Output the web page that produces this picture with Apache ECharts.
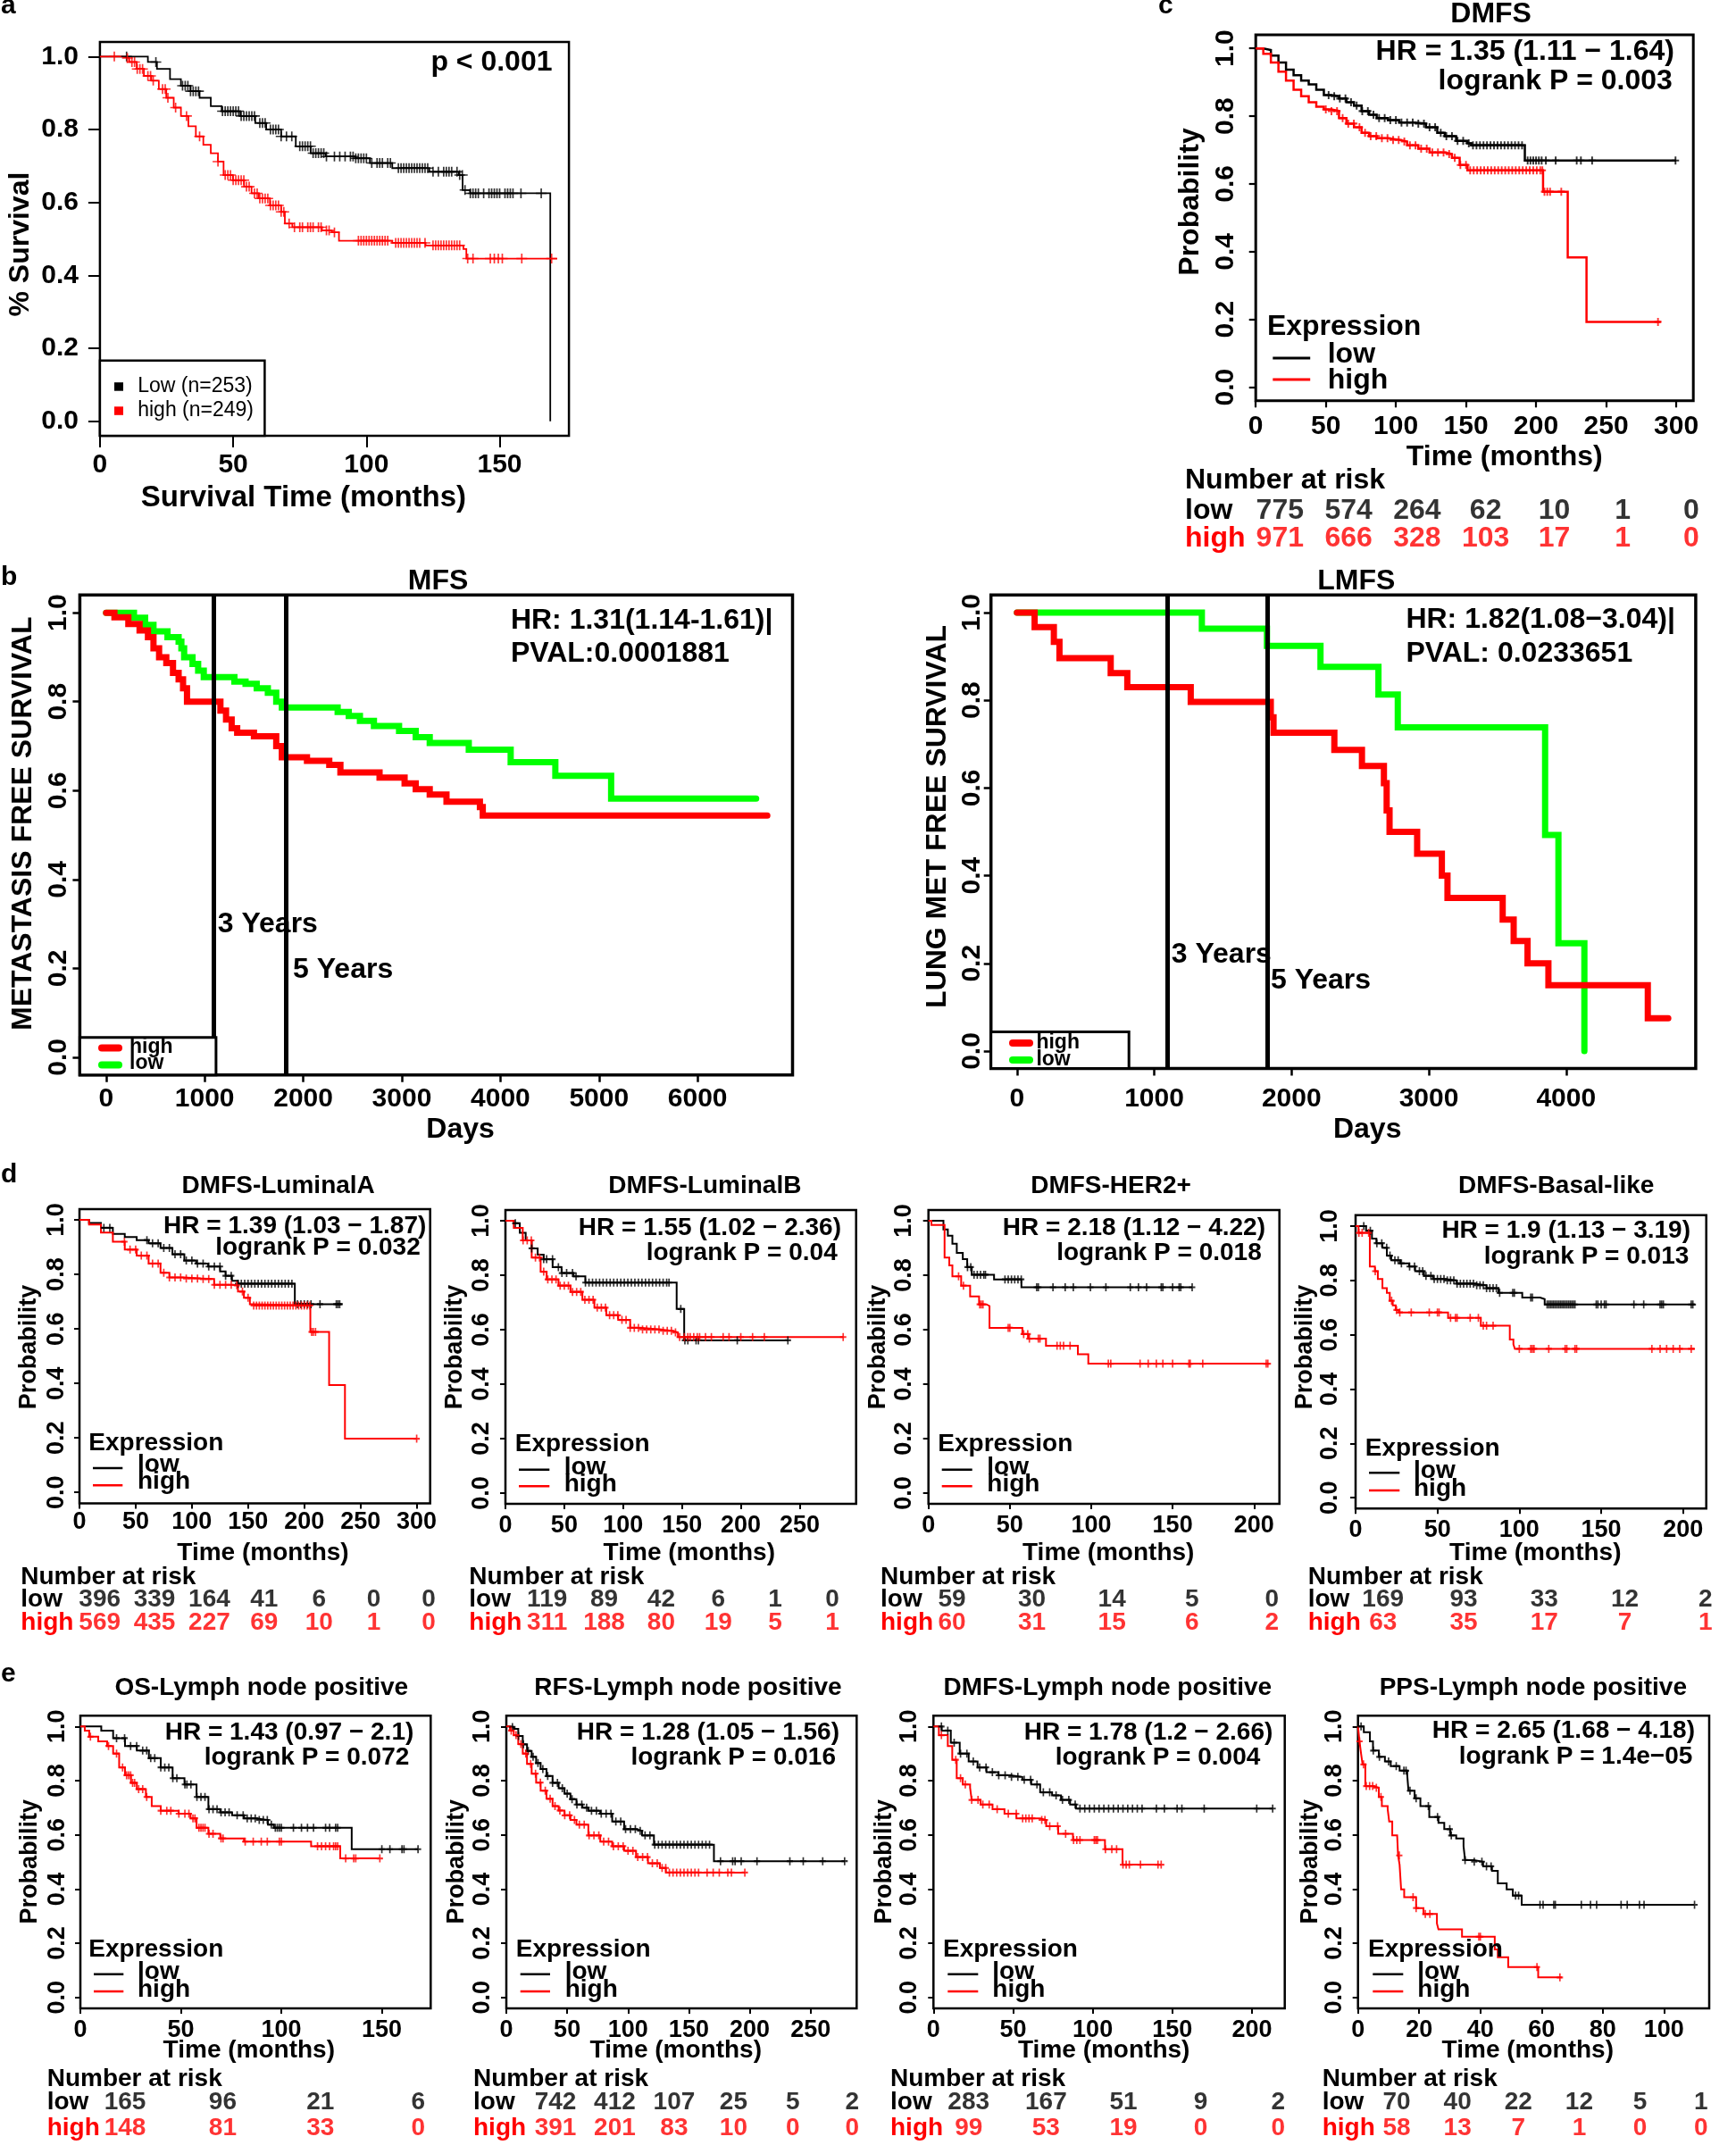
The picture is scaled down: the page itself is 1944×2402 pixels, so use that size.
<!DOCTYPE html>
<html><head><meta charset="utf-8">
<script src="https://cdn.jsdelivr.net/npm/echarts/dist/echarts.min.js"></script>
<style>html,body{margin:0;padding:0;background:#fff}#c{width:1944px;height:2402px}</style>
</head><body><div id="c"></div>
<script>
const FONT = '"Liberation Sans", Arial, sans-serif';
const RED = '#ff0000', BLACK = '#000000', GREEN = '#00ff00';
const PROB_TICKS = [0, 0.2, 0.4, 0.6, 0.8, 1];

// ---------- tick labels ----------
const ticksA = [0, 50, 100, 150];
const ticks300 = [0, 50, 100, 150, 200, 250, 300];
const ticks250 = [0, 50, 100, 150, 200, 250];
const ticks200 = [0, 50, 100, 150, 200];
const ticks150 = [0, 50, 100, 150];
const ticksPPS = [0, 20, 40, 60, 80, 100];
const ticksMFS = [0, 1000, 2000, 3000, 4000, 5000, 6000];
const ticksLMFS = [0, 1000, 2000, 3000, 4000];
const yearMarks = [1095, 1825];

// ---------- panel a ----------
const aLow = [[0,1],[14,1],[18,0.985],[21.4,0.966],[26.3,0.938],[30.4,0.92],[34,0.905],[37.4,0.887],[41.6,0.864],[45.7,0.85],[52.7,0.837],[58.3,0.818],[62.4,0.8],[68,0.781],[73.5,0.754],[79.1,0.735],[84.7,0.726],[95.8,0.721],[101.3,0.708],[109.7,0.694],[123.6,0.684],[134.7,0.675],[136.1,0.634],[138.9,0.625],[169,0.625],[169,0]];
const aHigh = [[0,1],[8.2,0.996],[11,0.985],[13.8,0.966],[16.5,0.947],[19.3,0.934],[22.1,0.911],[24.9,0.887],[27.7,0.86],[30.4,0.837],[33.2,0.809],[36,0.781],[38.8,0.758],[41.6,0.735],[44.3,0.712],[46.4,0.675],[49.9,0.661],[54.1,0.643],[56.9,0.625],[59.6,0.611],[63.8,0.592],[68,0.574],[69.4,0.542],[72.2,0.532],[83.3,0.523],[87,0.518],[89.7,0.495],[109.7,0.489],[122.2,0.482],[136.4,0.472],[137.5,0.446],[171.6,0.446]];
const aLowCens = [10,21,31,32,33,34,35,36,37,46,47,48,49,50,51,52,53,54,55,56,57,58,60,61,62,64,65,66,67,68,70,72,75,76,77,78,79,80,81,82,83,84,85,88,90,92,94,95,96,97,98,99,100,102,104,105,106,108,109,112,113,114,115,116,117,118,119,120,121,122,123,125,127,129,130,131,132,134,135,136,137,139,140,141,142,144,146,147,148,149,150,152,153,154,155,158,165.6];
const aHighCens = [5.4,10.3,12,13,14,15,16,18,19,20,23.5,24.5,25.5,28.4,32.5,37.4,44.3,47,48,49,50,51,52,53,54,55,56,58,59,60,61,62,63,64,65,66,67,68,69,71,73,75,76,78,79,80,82,83,85,86,88,97,98,99,100,101,102,103,104,105,106,107,108,111,112,113,114,115,116,117,118,119,120,122,125,126,127,128,129,130,131,132,133,134,135,138,140,146.5,148,149.5,151,158.3,169.5];

// ---------- panel c ----------
const cLow = [[0,1],[5.4,0.995],[10.8,0.979],[16.2,0.958],[21.6,0.937],[27,0.921],[32.4,0.905],[37.8,0.894],[43.2,0.878],[48.6,0.862],[54,0.859],[59.4,0.852],[64.7,0.841],[70.1,0.831],[75.5,0.815],[80.9,0.804],[86.3,0.794],[94.4,0.788],[102.5,0.781],[113.3,0.778],[121.4,0.767],[129.5,0.751],[134.9,0.741],[143,0.727],[151.1,0.72],[153.8,0.714],[192,0.669],[300,0.669]];
const cHigh = [[0,1],[5.4,0.984],[10.8,0.958],[16.2,0.931],[21.6,0.905],[27,0.878],[32.4,0.859],[37.8,0.841],[43.2,0.828],[48.6,0.82],[54,0.815],[59.4,0.794],[64.7,0.778],[70.1,0.767],[75.5,0.751],[80.9,0.741],[86.3,0.735],[94.4,0.73],[102.5,0.725],[108,0.714],[116,0.704],[124,0.693],[134.9,0.688],[140,0.677],[145.5,0.656],[151.1,0.64],[205,0.577],[222.6,0.383],[236,0.193],[289,0.193]];
const cLowCens = [52,56,60,64,68,72,76,80,84,88,92,96,100,104,108,112,116,120,124,128,132,136,140,144,148,152,155,157.5,160,162.5,165,167.5,170,172.5,175,177.5,180,182.5,185,187.5,190,194,196,198,200,202,204,207,214,229,232,240,299.5];
const cHighCens = [50,54,58,62,66,70,74,78,82,86,90,94,98,102,106,110,114,118,122,126,130,134,138,142,146,150,153,155.5,158,160.5,163,165.5,168,170.5,173,175.5,178,180.5,183,185.5,188,190.5,193,195.5,198,200.5,203,204.5,206,208,210,218,287];
const cRiskLow = [775,574,264,62,10,1,0];
const cRiskHigh = [971,666,328,103,17,1,0];

// ---------- panel b ----------
const mfsLow = [[0,1],[283,0.989],[396,0.973],[481,0.958],[623,0.945],[736,0.935],[764,0.92],[792,0.9],[877,0.885],[934,0.87],[991,0.855],[1302,0.845],[1415,0.84],[1528,0.83],[1641,0.82],[1726,0.8],[1783,0.787],[2349,0.777],[2462,0.768],[2575,0.757],[2717,0.745],[2972,0.734],[3141,0.72],[3283,0.707],[3679,0.692],[4104,0.664],[4557,0.633],[5123,0.582],[6594,0.582]];
const mfsHigh = [[0,1],[85,0.99],[226,0.975],[340,0.96],[425,0.945],[481,0.92],[538,0.9],[611,0.887],[679,0.865],[736,0.85],[781,0.83],[821,0.8],[1160,0.78],[1217,0.76],[1274,0.74],[1330,0.73],[1500,0.722],[1726,0.7],[1783,0.675],[2038,0.667],[2264,0.658],[2377,0.641],[2774,0.629],[3028,0.616],[3141,0.603],[3283,0.591],[3453,0.575],[3792,0.563],[3821,0.544],[6707,0.544]];
const lmfsLow = [[0,1],[1347,0.963],[1821,0.924],[2211,0.876],[2633,0.813],[2774,0.738],[3847,0.493],[3944,0.246],[4133,0]];
const lmfsHigh = [[0,1],[129,0.967],[269,0.933],[310,0.896],[683,0.862],[804,0.83],[1266,0.796],[1849,0.761],[1869,0.726],[2312,0.687],[2513,0.65],[2673,0.611],[2693,0.549],[2714,0.5],[2915,0.45],[3095,0.4],[3136,0.349],[3538,0.3],[3618,0.251],[3719,0.2],[3871,0.15],[4595,0.075],[4744,0.075]];

// ---------- panel d ----------
const laLow = [[0,1],[8.5,0.989],[19.1,0.971],[29.7,0.949],[40.3,0.937],[50.9,0.926],[61.5,0.914],[72.1,0.897],[82.7,0.874],[93.3,0.851],[103.9,0.84],[114.5,0.829],[125.1,0.811],[130,0.795],[135.7,0.777],[141,0.766],[191.6,0.691],[233.8,0.691]];
const laHigh = [[0,1],[8.5,0.983],[19.1,0.954],[29.7,0.92],[40.3,0.891],[50.9,0.869],[61.5,0.84],[72.1,0.806],[80,0.789],[93.3,0.785],[109.2,0.783],[119.8,0.762],[135.7,0.76],[141,0.737],[146.3,0.714],[151.6,0.691],[154.3,0.686],[205.4,0.589],[222.1,0.394],[236.2,0.197],[300,0.197]];
const laLowCens = [21.7,27,60,65,70,75,80,85,90,95,100,105,110,115,120,125,130,135,141,144,147,150,153,156,159,162,165,168,171,174,177,180,183,186,189,194,197,200,203,206,214,228.5,230,231.5];
const laHighCens = [40,45,50,55,60,65,70,75,80,85,90,95,100,105,110,115,120,125,130,135,140,145,150,155,157.5,160,162.5,165,167.5,170,172.5,175,177.5,180,182.5,185,187.5,190,192.5,195,197.5,200,202.5,205,206.5,208,210,300];
const laRiskLow = [396,339,164,41,6,0,0];
const laRiskHigh = [569,435,227,69,10,1,0];

const lbLow = [[0,1],[7.1,0.991],[12.2,0.956],[17.2,0.928],[22.3,0.899],[27.4,0.876],[32.5,0.859],[40.1,0.83],[47.7,0.808],[57.8,0.796],[67.9,0.773],[145.5,0.676],[151.9,0.561],[240.4,0.561]];
const lbHigh = [[0,1],[7.1,0.974],[14.7,0.928],[22.3,0.865],[29.9,0.813],[35,0.785],[45.1,0.762],[55.3,0.739],[65.4,0.71],[75.6,0.681],[85.7,0.653],[95.8,0.636],[106,0.607],[116.1,0.601],[131.3,0.596],[141.5,0.59],[146.6,0.573],[287.3,0.573]];
const lbLowCens = [8.4,22.3,32.5,35,40,45,48,52,57,60,68,71,74,77,80,83,86,89,92,95,98,101,104,107,110,113,116,119,122,125,128,131,134,137,139,149,152.5,155,162,164,197,240];
const lbHighCens = [15,18.5,22,25.5,29,32.5,36,39.5,43,46.5,50,53.5,57,60.5,64,67.5,71,74.5,78,81.5,85,88.5,92,95.5,99,102.5,106,109.5,113,116.5,120,123.5,127,130.5,134,137.5,141,144.5,148,152,155,157,160,163,165,170,175,185,190,200,210,220,287];
const lbRiskLow = [119,89,42,6,1,0];
const lbRiskHigh = [311,188,80,19,5,1];

const h2Low = [[0,1],[9.2,0.968],[11.9,0.945],[14.7,0.916],[17.4,0.882],[21.1,0.859],[23.8,0.83],[26.6,0.802],[40.3,0.785],[57.1,0.756],[162.1,0.756]];
const h2High = [[0,1],[1.8,0.985],[9.9,0.865],[12.8,0.836],[14.7,0.796],[20.1,0.762],[25.6,0.722],[31.1,0.693],[35.7,0.687],[37.5,0.607],[57.7,0.584],[61.4,0.567],[72.2,0.541],[91.8,0.51],[98.2,0.475],[208.8,0.475]];
const h2LowCens = [24,26,28,30,32,34,35,47,49,51,53,55,57,66.5,67.5,76.5,84,89,99.5,109,124,129,134,143,144,150,154,155,162];
const h2HighCens = [18.5,21.5,31.5,32.5,33.5,49,50,58.5,61,62,67.5,68.5,79,81,83,87,110.5,112,130,135,140,144,150,160,160.8,168.5,207.5,208.5];
const h2RiskLow = [59,30,14,5,0];
const h2RiskHigh = [60,31,15,6,2];

const blLow = [[0,1],[6.4,0.983],[10,0.954],[12.7,0.937],[16.4,0.92],[19.1,0.891],[21.8,0.874],[27.3,0.863],[32.7,0.851],[36.4,0.834],[41.8,0.817],[47.3,0.805],[54.5,0.8],[61.8,0.788],[72.7,0.782],[80,0.771],[87.3,0.754],[101.8,0.737],[112.7,0.731],[115.5,0.711],[207.3,0.711]];
const blHigh = [[0,1],[1.8,0.975],[8.7,0.851],[11.8,0.834],[13.6,0.805],[16.4,0.771],[19.1,0.754],[20.9,0.725],[22.7,0.708],[24.5,0.691],[26.4,0.682],[56.5,0.662],[76.5,0.633],[94.2,0.582],[96.4,0.565],[97.3,0.548],[207.3,0.548]];
const blLowCens = [5,9,13,16,19,21,24,26,28,33,36,39,41,43,46,48,50,52,54,56,58,60,62,64,66,68,70,72,74,76,78,80,82,84,86,88,96,97,107,108,117,118,119,120,121,122,123,124,125,126,127,128,129,130,131,132,133,134,147,148,150,152,153,170,176,186,187,188,205,206];
const blHighCens = [2,4,8,12,22,25,27,34,45,50,51,58,61,62,70,75,78,80,84,100,107,108,109,118,128,129,134,135,181,186,190,194,198,205];
const blRiskLow = [169,93,33,12,2];
const blRiskHigh = [63,35,17,7,1];

// ---------- panel e ----------
const osLow = [[0,1],[8.9,1],[10.4,0.985],[16.3,0.957],[22.2,0.928],[28.1,0.911],[34.1,0.883],[40,0.849],[45.9,0.809],[51.8,0.786],[57.8,0.74],[63.7,0.695],[69.6,0.683],[75.5,0.672],[81.4,0.661],[87.4,0.655],[93.3,0.638],[96.3,0.626],[135,0.547],[168.1,0.547]];
const osHigh = [[0,1],[2.2,0.985],[4.4,0.962],[8.9,0.945],[13.3,0.928],[16.3,0.9],[19.3,0.849],[22.2,0.82],[25.2,0.792],[28.1,0.769],[32.6,0.74],[35.5,0.706],[40,0.689],[48.9,0.678],[54.8,0.661],[57.8,0.626],[63.7,0.604],[69.6,0.587],[81.4,0.575],[114.8,0.558],[129.3,0.513],[148.8,0.513]];
const osLowCens = [18,22,25,28,31,33,35,37,40,42,44,46,48,52,53,55,58,60,62,64,66,68,70,72,74,78,81,83,85,87,89,91,93,95,97,98,99,100,106,110,113,116,122,124,127,128,150,154,160,161,168];
const osHighCens = [5,14,18,21,23,24,25,26,27,29,31,33,40,43,45,49,52,54,56,57,59,60,61,62,64,66,70,71,82,86,90,93,99,100,118,120,122,124,126,127,128,132,136,137,149];
const osRiskLow = [165,96,21,6];
const osRiskHigh = [148,81,33,0];

const rfsLow = [[0,1],[3,0.998],[6.1,0.991],[9.8,0.965],[13.5,0.934],[17,0.91],[20.8,0.888],[24.5,0.865],[28.2,0.843],[33,0.817],[38,0.792],[43,0.772],[47.8,0.752],[52.7,0.732],[57.6,0.712],[62.5,0.7],[67.4,0.689],[77.2,0.678],[87,0.649],[96.8,0.621],[106.6,0.615],[111.5,0.598],[121.3,0.564],[170.6,0.503],[278.2,0.503]];
const rfsHigh = [[0,1],[3,0.985],[6.1,0.968],[9.8,0.935],[13.5,0.9],[17,0.862],[20.8,0.826],[24.5,0.793],[28.2,0.763],[33,0.733],[38,0.706],[43,0.69],[47.8,0.672],[52.7,0.655],[57.6,0.638],[67.4,0.598],[77.2,0.575],[87,0.558],[96.8,0.541],[106.6,0.518],[116.4,0.495],[126.2,0.478],[131.1,0.461],[196.1,0.461]];
const rfsLowCens = [5,10,14,18,22,26,30,34,38,42,46,50,54,58,62,66,70,74,78,82,86,90,94,98,102,106,110,114,118,122,125,128,131,134,137,140,143,146,149,152,155,158,161,164,167,176,186,188,193,206,233,244,260,278];
const rfsHighCens = [4,8,12,16,20,24,28,32,36,40,44,48,52,56,60,64,68,72,76,80,84,88,92,96,100,104,108,112,116,120,124,128,131,134,137,140,143,146,149,152,155,158,165,170,175,182,185,196];
const rfsRiskLow = [742,412,107,25,5,2];
const rfsRiskHigh = [391,201,83,10,0,0];

const dmLow = [[0,1],[5.2,0.985],[10.9,0.94],[16.5,0.9],[22.1,0.871],[27.7,0.849],[33.3,0.831],[40.8,0.82],[48.3,0.814],[55.8,0.803],[61.4,0.786],[67,0.757],[74.5,0.746],[80.1,0.729],[85.8,0.712],[89.5,0.697],[213.1,0.697]];
const dmHigh = [[0,1],[3.4,0.968],[9,0.928],[11.8,0.877],[14.6,0.809],[18.4,0.786],[23,0.774],[24,0.729],[29.6,0.712],[37.1,0.695],[44.6,0.678],[52.1,0.661],[67,0.655],[70.8,0.632],[78.3,0.604],[87.6,0.581],[107.7,0.547],[118.7,0.49],[142.9,0.49]];
const dmLowCens = [5,9,13,17,21,25,29,33,37,41,45,49,53,57,61,65,69,73,77,81,85,89,92,95,98,101,104,107,110,113,116,119,122,125,128,131,140,145,153,156,170,203,213];
const dmHighCens = [5,14,17,20,24,28,31,35,40,47,52,56,58,60,62,68,70,73,78,83,88,90,92,101,102,103,108,112,115,119,121,123,130,141,143];
const dmRiskLow = [283,167,51,9,2];
const dmRiskHigh = [99,53,19,0,0];

const ppsLow = [[0,1],[1.9,0.979],[3.9,0.945],[4.9,0.911],[6.8,0.888],[8.8,0.871],[10.7,0.854],[13.6,0.837],[16.1,0.82],[16.5,0.763],[18.5,0.735],[20.4,0.706],[23.3,0.666],[26.3,0.644],[28.2,0.621],[30.2,0.598],[32.1,0.587],[34.5,0.558],[35,0.507],[37.9,0.501],[40.9,0.484],[43.8,0.467],[45.7,0.421],[48.6,0.399],[50.6,0.376],[53.5,0.342],[109.9,0.342]];
const ppsHigh = [[0,1],[0.5,0.945],[1,0.9],[1.5,0.86],[2.4,0.78],[4.9,0.774],[6.8,0.74],[7.8,0.706],[9.7,0.695],[10.2,0.649],[11.2,0.598],[12.8,0.592],[13.1,0.524],[13.6,0.49],[14.1,0.399],[15.1,0.37],[19,0.33],[21.4,0.308],[25.8,0.273],[26.3,0.251],[34,0.224],[44.7,0.177],[45.7,0.148],[49.1,0.112],[58.9,0.074],[66.6,0.074]];
const ppsLowCens = [1,5,7,10,12.5,15,15.7,17,19,23,26,30,30.5,35,38,40.5,42,43.5,51.5,52.5,59.5,60.5,64,64.5,73,76,78,86,88,92,93.5,110];
const ppsHighCens = [0.5,1.8,2.7,3.8,4.8,6,7.5,13.5,18,19,22,23.5,39.5,40,58.5,66];
const ppsRiskLow = [70,40,22,12,5,1];
const ppsRiskHigh = [58,13,7,1,0,0];

// ---------- helpers ----------
const PLUS_THIN = 'path://M4.3,0H5.7V4.3H10V5.7H5.7V10H4.3V5.7H0V4.3H4.3Z';
const PLUS = 'path://M3.8,0H6.2V3.8H10V6.2H6.2V10H3.8V6.2H0V3.8H3.8Z';
function stepAt(curve, t) { let s = curve[0][1]; for (const p of curve) { if (p[0] <= t) s = p[1]; else break; } return s; }

const grids = [], xAxes = [], yAxes = [], series = [], graphics = [];
function T(x, y, text, size, o) {
  o = o || {};
  return {type:'text', x:x, y:y, z:100, silent:true, rotation:o.rot || 0,
    style:{text:String(text), font:(o.weight || 'bold') + ' ' + size + 'px ' + FONT, fill:o.color || BLACK,
      textAlign:o.align || 'left', textVerticalAlign:'middle', align:o.align || 'left', verticalAlign:'middle'}};
}
function L(x1, y1, x2, y2, color, w, cap) {
  return {type:'line', z:100, silent:true, shape:{x1:x1, y1:y1, x2:x2, y2:y2}, style:{stroke:color, lineWidth:w, lineCap:cap || 'butt'}};
}
function R(x, y, w, h, o) {
  return {type:'rect', z:100, silent:true, shape:{x:x, y:y, width:w, height:h}, style:o};
}

function addKM(p) {
  const gi = grids.length;
  const [l, t, r, b] = p.box;
  grids.push({left:l, top:t, width:r - l, height:b - t, show:true, borderColor:'#000', borderWidth:p.bw, backgroundColor:'rgba(0,0,0,0)'});
  const lab = {fontSize:p.fs, fontWeight:'bold', fontFamily:FONT, color:'#000'};
  xAxes.push({gridIndex:gi, type:'value', position:'bottom', min:p.xr[0], max:p.xr[1], axisLine:{show:false, onZero:false}, splitLine:{show:false},
    axisTick:{show:true, length:p.tl, lineStyle:{color:'#000', width:p.tw}, customValues:p.xt},
    axisLabel:Object.assign({show:true, customValues:p.xt, margin:p.xm, formatter:v => String(v)}, lab)});
  yAxes.push({gridIndex:gi, type:'value', position:'left', min:-0.04, max:1.04, axisLine:{show:false, onZero:false}, splitLine:{show:false},
    axisTick:{show:true, length:p.tl, lineStyle:{color:'#000', width:p.tw}, customValues:PROB_TICKS},
    axisLabel:Object.assign({show:true, customValues:PROB_TICKS, rotate:p.yr, margin:p.ym, formatter:v => v.toFixed(1)}, lab)});
  const sets = [[p.low, p.cLow, p.lowC], [p.high, p.cHigh, p.highC]];
  sets.forEach((s, k) => {
    const ser = {type:'line', xAxisIndex:gi, yAxisIndex:gi, data:s[0], step:'end', symbol:'none', silent:true, z:2 + k,
      lineStyle:{color:s[1], width:p.lw, cap:p.cap || 'butt', join:'miter'}, itemStyle:{color:s[1]}};
    if (k === 0 && p.marks) {
      ser.markLine = {silent:true, symbol:['none', 'none'], label:{show:false}, z:5,
        lineStyle:{color:'#000', width:5, type:'solid'}, data:p.marks.map(v => ({xAxis:v}))};
    }
    series.push(ser);
  });
  sets.forEach(s => {
    if (!s[2]) return;
    series.push({type:'scatter', xAxisIndex:gi, yAxisIndex:gi, silent:true, z:4,
      data:s[2].map(t => [t, stepAt(s[0], t)]), symbol:p.sym, symbolSize:p.cs, itemStyle:{color:s[1]}});
  });
}

function addRisk(r) {
  const gi = grids.length;
  const dy = r.highY - r.lowY;
  grids.push({left:r.x0, top:r.lowY - dy / 2, width:r.x1 - r.x0, height:2 * dy, show:false});
  xAxes.push({gridIndex:gi, type:'value', min:r.times[0], max:r.times[r.times.length - 1], show:false});
  yAxes.push({gridIndex:gi, type:'category', data:['high', 'low'], show:false});
  [[r.low, 1, BLACK], [r.high, 0, RED]].forEach(row => {
    series.push({type:'scatter', xAxisIndex:gi, yAxisIndex:gi, silent:true, clip:false, symbolSize:1,
      itemStyle:{color:'rgba(0,0,0,0)'},
      data:r.times.map((t, i) => [t, row[1], row[0][i]]),
      label:{show:true, position:'inside', formatter:q => String(q.value[2]), color:row[2], fontSize:r.fs, fontWeight:'bold', fontFamily:FONT}});
  });
  graphics.push(T(r.labelX, r.headY, 'Number at risk', r.fs));
  graphics.push(T(r.labelX, r.lowY, 'low', r.fs));
  graphics.push(T(r.labelX, r.highY, 'high', r.fs, {color:RED}));
}

function exprLegend(g, fs, lw) {
  graphics.push(T(g[0], g[1], 'Expression', fs));
  graphics.push(L(g[2], g[4], g[3], g[4], BLACK, lw));
  graphics.push(L(g[2], g[5], g[3], g[5], RED, lw));
  graphics.push(T(g[6], g[7], 'low', fs));
  graphics.push(T(g[6], g[8], 'high', fs));
}

const ROT = Math.PI / 2;

// ---------- panel a ----------
addKM({box:[111.9, 47, 637.1, 488], xr:[0, 176], xt:ticksA, low:aLow, high:aHigh, lowC:aLowCens, highC:aHighCens,
  cLow:BLACK, cHigh:RED, bw:2.5, tl:13, tw:2, fs:30, yr:0, ym:24, xm:17.5, lw:1.8, cs:[12, 11], sym:PLUS_THIN});
graphics.push(T(1, 6.5, 'a', 30));
graphics.push(T(618.5, 70.6, 'p < 0.001', 32, {align:'right'}));
graphics.push(T(22.8, 273.6, '% Survival', 32, {rot:ROT, align:'center'}));
graphics.push(T(339.9, 557.8, 'Survival Time (months)', 33, {align:'center'}));
graphics.push(R(111.9, 403.7, 184.5, 84.3, {fill:'#fff', stroke:'#000', lineWidth:2.5}));
graphics.push(R(128, 428.2, 10, 9.5, {fill:BLACK}));
graphics.push(R(128, 455.3, 10, 9.5, {fill:RED}));
graphics.push(T(154.2, 432.7, 'Low (n=253)', 23, {weight:'normal'}));
graphics.push(T(154.2, 460, 'high (n=249)', 23, {weight:'normal'}));

// ---------- panel c ----------
addKM({box:[1406.2, 39, 1896.2, 448.8], xr:[0, 312.2], xt:ticks300, low:cLow, high:cHigh, lowC:cLowCens, highC:cHighCens,
  cLow:BLACK, cHigh:RED, bw:3, tl:7.5, tw:2.2, fs:30, yr:90, ym:18, xm:14.3, lw:2.5, cs:[8, 9], sym:PLUS});
graphics.push(T(1297, 6.5, 'c', 30));
graphics.push(T(1669.6, 16.1, 'DMFS', 32, {align:'center'}));
graphics.push(T(1875, 57.9, 'HR = 1.35 (1.11 \u2212 1.64)', 32, {align:'right'}));
graphics.push(T(1872.9, 91.4, 'logrank P = 0.003', 32, {align:'right'}));
graphics.push(T(1332.9, 226, 'Probability', 32, {rot:ROT, align:'center'}));
graphics.push(T(1684.8, 512.3, 'Time (months)', 32, {align:'center'}));
exprLegend([1418.9, 366.6, 1425.3, 1467.2, 401, 425.1, 1486.7, 396.8, 426.5], 32, 3);
addRisk({x0:1433.3, x1:1894, lowY:572.6, highY:602.7, headY:538.4, labelX:1327, fs:32, times:ticks300, low:cRiskLow, high:cRiskHigh});

// ---------- panel b ----------
const bSty = {cLow:GREEN, cHigh:RED, bw:3.5, tl:8, tw:2.5, fs:30, yr:90, lw:7, cap:'round', marks:yearMarks};
addKM(Object.assign({box:[89.4, 666.3, 887.5, 1203.8], xr:[-266, 6963], xt:ticksMFS, low:mfsLow, high:mfsHigh, ym:8.8, xm:12.3}, bSty));
addKM(Object.assign({box:[1109.7, 666.3, 1898.9, 1196.6], xr:[-189, 4944], xt:ticksLMFS, low:lmfsLow, high:lmfsHigh, ym:5.5, xm:19.5}, bSty));
graphics.push(T(1, 646.7, 'b', 30));
graphics.push(T(490.6, 651.3, 'MFS', 32, {align:'center'}));
graphics.push(T(571.9, 695.5, 'HR: 1.31(1.14-1.61)|', 32));
graphics.push(T(571.9, 732.3, 'PVAL:0.0001881', 32));
graphics.push(T(243.8, 1035.4, '3 Years', 32));
graphics.push(T(328.1, 1085.9, '5 Years', 32));
graphics.push(T(515.6, 1265.6, 'Days', 32, {align:'center'}));
graphics.push(T(26.3, 922.2, 'METASTASIS FREE SURVIVAL', 32, {rot:ROT, align:'center'}));
graphics.push(R(89.4, 1161.7, 152.5, 42.1, {fill:'#fff', stroke:'#000', lineWidth:3}));
graphics.push(L(114, 1173.5, 133, 1173.5, RED, 8, 'round'));
graphics.push(L(114, 1192.4, 133, 1192.4, GREEN, 8, 'round'));
graphics.push(T(145, 1172.2, 'high', 23));
graphics.push(T(145, 1191.1, 'low', 23));

graphics.push(T(1518.8, 651.1, 'LMFS', 32, {align:'center'}));
graphics.push(T(1574.4, 694.5, 'HR: 1.82(1.08\u22123.04)|', 32));
graphics.push(T(1574.4, 731.9, 'PVAL: 0.0233651', 32));
graphics.push(T(1311.8, 1069.1, '3 Years', 32));
graphics.push(T(1423, 1098.5, '5 Years', 32));
graphics.push(T(1531.2, 1265.6, 'Days', 32, {align:'center'}));
graphics.push(T(1050.4, 914.4, 'LUNG MET FREE SURVIVAL', 32, {rot:ROT, align:'center'}));
graphics.push(R(1109.7, 1155.4, 154.5, 41.2, {fill:'#fff', stroke:'#000', lineWidth:3}));
graphics.push(L(1134, 1168, 1153, 1168, RED, 8, 'round'));
graphics.push(L(1134, 1186.9, 1153, 1186.9, GREEN, 8, 'round'));
graphics.push(T(1160.4, 1168, 'high', 23));
graphics.push(T(1160.4, 1186.9, 'low', 23));

// ---------- panels d and e ----------
const kSty = {cLow:BLACK, cHigh:RED, bw:2.5, tl:6, tw:2, fs:27, yr:90, lw:2, cs:[7, 9], sym:PLUS};
const dRisk = {lowY:1791, highY:1817.4, headY:1765.8};
const eRisk = {lowY:2353.8, highY:2383.3, headY:2328.4};
const dePanels = [
  {box:[89, 1353.9, 481.7, 1683.4], xr:[0, 312], xt:ticks300, low:laLow, high:laHigh, lowC:laLowCens, highC:laHighCens, ym:12, xm:8,
   title:'DMFS-LuminalA', tp:[311.7, 1328.3], hr:'HR = 1.39 (1.03 \u2212 1.87)', hp:[477.3, 1373.3], lr:'logrank P = 0.032', lp:[470.7, 1397.3],
   prob:[32.3, 1508.5], time:[294.5, 1738.8], leg:[99.3, 1616.3, 104, 137.3, 1644.1, 1663.2, 154, 1640.6, 1659.7],
   risk:Object.assign({x0:111.7, x1:480, labelX:23.3, times:ticks300, low:laRiskLow, high:laRiskHigh}, dRisk)},
  {box:[566, 1354.9, 958.7, 1684.1], xr:[0, 298], xt:ticks250, low:lbLow, high:lbHigh, lowC:lbLowCens, highC:lbHighCens, ym:13, xm:10.8,
   title:'DMFS-LuminalB', tp:[789.3, 1328.7], hr:'HR = 1.55 (1.02 \u2212 2.36)', hp:[942, 1375.1], lr:'logrank P = 0.04', lp:[937.7, 1403.4],
   prob:[509.3, 1508.5], time:[771.8, 1738.8], leg:[576.7, 1617.7, 581, 615.3, 1645.8, 1664.3, 631.7, 1643.1, 1662],
   risk:Object.assign({x0:612.7, x1:932, labelX:525.3, times:ticks250, low:lbRiskLow, high:lbRiskHigh}, dRisk)},
  {box:[1039.7, 1354.9, 1432.7, 1684.1], xr:[0, 215.6], xt:ticks200, low:h2Low, high:h2High, lowC:h2LowCens, highC:h2HighCens, ym:14, xm:10.8,
   title:'DMFS-HER2+', tp:[1244, 1328.7], hr:'HR = 2.18 (1.12 \u2212 4.22)', hp:[1417, 1375.1], lr:'logrank P = 0.018', lp:[1412.7, 1403.6],
   prob:[983.7, 1508.5], time:[1241.2, 1738.8], leg:[1050.3, 1617.7, 1054.7, 1088.7, 1645.8, 1664.3, 1105.3, 1643.1, 1662],
   risk:Object.assign({x0:1066, x1:1424.3, labelX:986, times:ticks200, low:h2RiskLow, high:h2RiskHigh}, dRisk)},
  {box:[1518, 1360.8, 1910.7, 1689.3], xr:[0, 214.2], xt:ticks200, low:blLow, high:blHigh, lowC:blLowCens, highC:blHighCens, ym:15, xm:10.8,
   title:'DMFS-Basal-like', tp:[1742.7, 1328.5], hr:'HR = 1.9 (1.13 \u2212 3.19)', hp:[1893, 1378.2], lr:'logrank P = 0.013', lp:[1891.3, 1407.2],
   prob:[1461.3, 1508.5], time:[1719.3, 1739.5], leg:[1528.7, 1621.9, 1533, 1567.3, 1649.3, 1669.1, 1583, 1647.6, 1667],
   risk:Object.assign({x0:1548.7, x1:1909.7, labelX:1464.7, times:ticks200, low:blRiskLow, high:blRiskHigh}, dRisk)},
  {box:[90, 1921.2, 482.3, 2248.9], xr:[0, 174.3], xt:ticks150, low:osLow, high:osHigh, lowC:osLowCens, highC:osHighCens, ym:12, xm:10.7,
   title:'OS-Lymph node positive', tp:[292.8, 1890.1], hr:'HR = 1.43 (0.97 \u2212 2.1)', hp:[463.3, 1940], lr:'logrank P = 0.072', lp:[458.3, 1968.4],
   prob:[33.3, 2084.7], time:[278.8, 2296.7], leg:[99.3, 2183.5, 105, 138.3, 2210.8, 2229.9, 154, 2208.1, 2227.8],
   risk:Object.assign({x0:140, x1:468.3, labelX:52.7, times:ticks150, low:osRiskLow, high:osRiskHigh}, eRisk)},
  {box:[567, 1921.2, 959.3, 2248.9], xr:[0, 287.9], xt:ticks250, low:rfsLow, high:rfsHigh, lowC:rfsLowCens, highC:rfsHighCens, ym:12.5, xm:10.7,
   title:'RFS-Lymph node positive', tp:[770.5, 1890.1], hr:'HR = 1.28 (1.05 \u2212 1.56)', hp:[940, 1940], lr:'logrank P = 0.016', lp:[936, 1968.4],
   prob:[511.3, 2084.7], time:[756.8, 2296.7], leg:[577.7, 2183.5, 582.7, 616, 2210.8, 2229.9, 632.7, 2208.1, 2227.8],
   risk:Object.assign({x0:622, x1:954.3, labelX:530, times:ticks250, low:rfsRiskLow, high:rfsRiskHigh}, eRisk)},
  {box:[1045.3, 1921.2, 1438.7, 2248.9], xr:[0, 220.6], xt:ticks200, low:dmLow, high:dmHigh, lowC:dmLowCens, highC:dmHighCens, ym:13, xm:10.7,
   title:'DMFS-Lymph node positive', tp:[1240.3, 1890.1], hr:'HR = 1.78 (1.2 \u2212 2.66)', hp:[1425.3, 1940], lr:'logrank P = 0.004', lp:[1411.3, 1968.4],
   prob:[990.3, 2084.7], time:[1236.2, 2296.7], leg:[1056, 2183.5, 1061.3, 1095.3, 2210.8, 2229.9, 1111.3, 2208.1, 2227.8],
   risk:Object.assign({x0:1084.7, x1:1431.3, labelX:997, times:ticks200, low:dmRiskLow, high:dmRiskHigh}, eRisk)},
  {box:[1520.7, 1921.2, 1914, 2248.9], xr:[0, 114.8], xt:ticksPPS, low:ppsLow, high:ppsHigh, lowC:ppsLowCens, highC:ppsHighCens, ym:12.5, xm:10.7,
   title:'PPS-Lymph node positive', tp:[1716.8, 1890.1], hr:'HR = 2.65 (1.68 \u2212 4.18)', hp:[1898, 1938.6], lr:'logrank P = 1.4e\u221205', lp:[1895.3, 1967.6],
   prob:[1467.3, 2084.7], time:[1710.8, 2296.7], leg:[1532, 2183.5, 1537.3, 1571.3, 2210.8, 2229.9, 1587.3, 2208.1, 2227.8],
   risk:Object.assign({x0:1564, x1:1904.7, labelX:1480.7, times:ticksPPS, low:ppsRiskLow, high:ppsRiskHigh}, eRisk)}
];
dePanels.forEach(p => {
  addKM(Object.assign({}, kSty, p));
  graphics.push(T(p.tp[0], p.tp[1], p.title, 28, {align:'center'}));
  graphics.push(T(p.hp[0], p.hp[1], p.hr, 28, {align:'right'}));
  graphics.push(T(p.lp[0], p.lp[1], p.lr, 28, {align:'right'}));
  graphics.push(T(p.prob[0], p.prob[1], 'Probability', 27, {rot:ROT, align:'center'}));
  graphics.push(T(p.time[0], p.time[1], 'Time (months)', 28, {align:'center'}));
  exprLegend(p.leg, 28, 2.5);
  addRisk(Object.assign({fs:28}, p.risk));
});
graphics.push(T(1, 1315.8, 'd', 30));
graphics.push(T(1, 1875.2, 'e', 30));

const chart = echarts.init(document.getElementById('c'), null, {renderer:'canvas', width:1944, height:2402});
chart.setOption({
  backgroundColor:'#ffffff', animation:false,
  grid:grids, xAxis:xAxes, yAxis:yAxes, series:series,
  graphic:{elements:graphics}
});
</script></body></html>
